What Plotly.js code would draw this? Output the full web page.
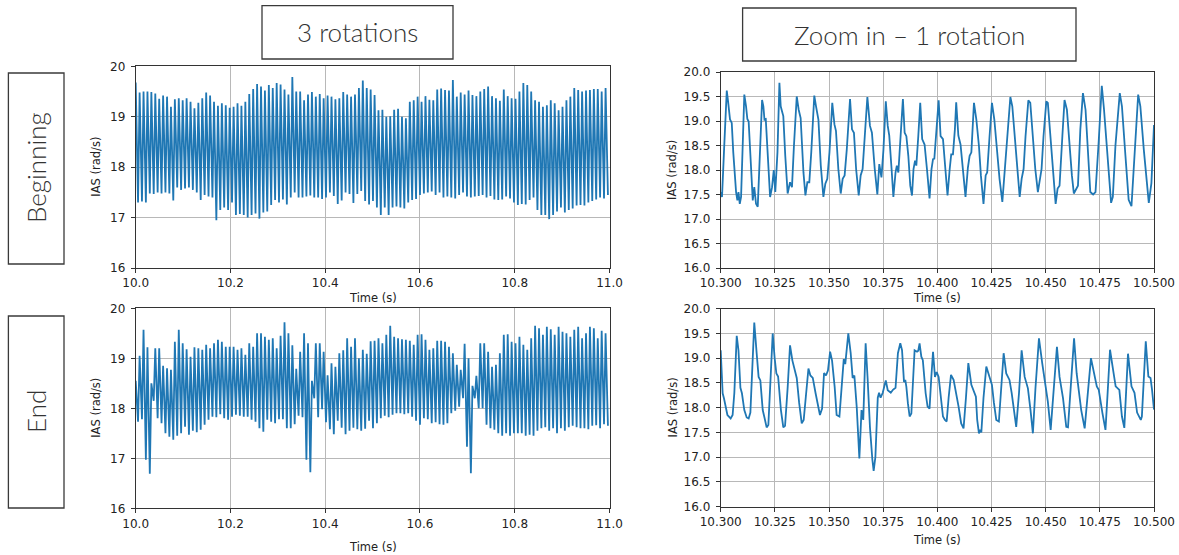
<!DOCTYPE html>
<html>
<head>
<meta charset="utf-8">
<script src="https://cdn.plot.ly/plotly-3.0.1.min.js"></script>
<style>html,body{margin:0;padding:0;background:#fff;}#chart{width:1179px;height:555px;}</style>
</head>
<body>
<div id="chart"></div>
<script>
// ---------------- DATA ----------------
// Left panels: one spike per shaft-speed cycle (about 121 cycles per second).
const cyclesPerSecond = 121;
const leftStart = 10.0;

// "Beginning", 3 rotations: peak and trough of every cycle (rad/s)
const beginPeaks = [19.68,19.48,19.5,19.5,19.49,19.46,19.36,19.42,19.4,19.2,
19.35,19.37,19.33,19.37,19.3,19.17,19.28,19.37,19.48,19.42,
19.3,19.22,19.27,19.23,19.18,19.2,19.27,19.22,19.3,19.45,
19.55,19.65,19.6,19.52,19.63,19.57,19.67,19.64,19.54,19.44,
19.79,19.5,19.5,19.33,19.44,19.49,19.4,19.45,19.37,19.42,
19.4,19.35,19.37,19.49,19.44,19.4,19.44,19.57,19.72,19.57,
19.54,19.43,19.13,19.14,19.0,19.01,19.14,19.16,19.0,18.97,
19.3,19.33,19.4,19.3,19.41,19.34,19.33,19.54,19.56,19.53,
19.52,19.73,19.4,19.48,19.44,19.52,19.43,19.41,19.5,19.55,
19.6,19.41,19.37,19.32,19.54,19.41,19.37,19.36,19.5,19.67,
19.63,19.5,19.33,19.3,19.2,19.23,19.33,19.27,19.13,19.2,
19.33,19.4,19.57,19.53,19.5,19.52,19.53,19.55,19.55,19.5,
19.57];
const beginTroughs = [17.3,17.32,17.3,17.48,17.47,17.5,17.48,17.5,17.48,17.34,
17.6,17.55,17.58,17.6,17.55,17.5,17.35,17.45,17.42,17.4,
16.95,17.15,17.2,17.15,17.3,17.05,17.07,17.05,17.0,17.05,
17.08,16.98,17.1,17.12,17.25,17.35,17.3,17.36,17.26,17.4,
17.5,17.4,17.4,17.42,17.44,17.4,17.4,17.37,17.4,17.5,
17.43,17.27,17.34,17.5,17.47,17.29,17.47,17.53,17.33,17.26,
17.33,17.2,17.05,17.2,17.05,17.2,17.22,17.2,17.18,17.3,
17.35,17.37,17.45,17.48,17.5,17.52,17.45,17.5,17.4,17.42,
17.4,17.38,17.45,17.5,17.42,17.4,17.42,17.43,17.45,17.4,
17.43,17.36,17.35,17.36,17.42,17.38,17.3,17.25,17.27,17.26,
17.35,17.4,17.15,17.05,17.05,16.97,17.05,17.12,17.2,17.1,
17.15,17.18,17.24,17.25,17.24,17.3,17.33,17.36,17.4,17.38,
17.45];

// "End", 3 rotations: peak and trough of every cycle (rad/s)
const endPeaks = [18.55,19.05,19.57,19.22,18.5,19.2,19.2,18.85,18.8,18.77,
19.33,19.57,19.3,19.18,19.03,19.22,19.2,19.17,19.27,19.2,
19.3,19.37,19.33,19.23,19.23,19.23,19.17,19.2,19.07,19.3,
19.23,19.5,19.5,19.43,19.37,19.4,19.2,19.45,19.72,19.5,
19.26,18.79,19.13,19.5,19.3,18.55,19.3,19.3,19.13,18.66,
18.9,18.83,19.1,19.16,19.4,19.23,19.4,19.0,19.17,19.09,
19.34,19.35,19.4,19.3,19.47,19.65,19.43,19.4,19.38,19.37,
19.35,19.27,19.47,19.48,19.37,19.17,19.2,19.35,19.35,19.33,
19.23,19.1,18.87,18.77,19.29,19.0,18.45,18.65,19.3,19.3,
19.13,18.83,18.87,19.1,19.47,19.48,19.33,19.3,19.43,19.27,
19.17,19.4,19.65,19.6,19.47,19.63,19.58,19.47,19.63,19.53,
19.5,19.43,19.57,19.63,19.4,19.5,19.63,19.6,19.4,19.55,
19.5];
const endTroughs = [17.73,17.78,16.97,16.69,18.15,17.8,17.7,17.5,17.43,17.37,
17.45,17.5,17.63,17.47,17.55,17.52,17.57,17.67,17.77,17.83,
17.82,17.88,17.8,17.77,17.83,17.87,17.85,17.83,17.83,17.77,
17.73,17.6,17.53,17.77,17.73,17.7,17.78,17.78,17.6,17.6,
17.68,17.85,17.82,16.97,16.72,18.2,17.82,17.98,17.72,17.58,
17.48,17.75,17.61,17.48,17.55,17.61,17.58,17.55,17.59,17.75,
17.6,17.7,17.8,17.85,17.82,17.87,17.9,17.9,17.88,17.9,
17.83,17.75,17.67,17.8,17.78,17.7,17.72,17.68,17.67,17.7,
17.9,17.95,18.03,18.2,17.23,16.7,18.2,18.0,18.0,17.67,
17.6,17.57,17.5,17.45,17.5,17.45,17.5,17.5,17.5,17.45,
17.47,17.45,17.55,17.6,17.62,17.55,17.6,17.5,17.6,17.55,
17.62,17.65,17.62,17.6,17.6,17.58,17.65,17.66,17.6,17.68,
17.65];

// "Beginning", zoom in (10.30 - 10.50 s): sampled trace
const zoomBeginTime = [10.3000,10.3006,10.3015,10.3028,10.3034,10.3043,10.3051,10.3058,10.3071,10.3077,
10.3082,10.3088,10.3094,10.3102,10.3109,10.3117,10.3123,10.3129,10.3138,10.3148,
10.3155,10.3163,10.3171,10.3178,10.3191,10.3197,10.3202,10.3208,10.3215,10.3228,
10.3237,10.3245,10.3252,10.3262,10.3271,10.3277,10.3283,10.3289,10.3298,10.3309,
10.3320,10.3329,10.3338,10.3351,10.3360,10.3369,10.3382,10.3391,10.3400,10.3409,
10.3418,10.3432,10.3440,10.3451,10.3462,10.3474,10.3483,10.3492,10.3502,10.3515,
10.3525,10.3532,10.3543,10.3554,10.3563,10.3572,10.3582,10.3597,10.3606,10.3615,
10.3625,10.3637,10.3646,10.3655,10.3665,10.3677,10.3689,10.3698,10.3711,10.3723,
10.3732,10.3742,10.3751,10.3762,10.3771,10.3778,10.3789,10.3797,10.3807,10.3813,
10.3820,10.3829,10.3841,10.3849,10.3857,10.3866,10.3875,10.3883,10.3890,10.3897,
10.3903,10.3912,10.3921,10.3930,10.3941,10.3952,10.3964,10.3973,10.3980,10.3986,
10.3995,10.4006,10.4015,10.4026,10.4037,10.4047,10.4057,10.4064,10.4072,10.4081,
10.4087,10.4097,10.4107,10.4118,10.4130,10.4141,10.4149,10.4157,10.4169,10.4180,
10.4192,10.4201,10.4213,10.4223,10.4230,10.4241,10.4252,10.4263,10.4275,10.4287,
10.4300,10.4309,10.4318,10.4326,10.4337,10.4346,10.4357,10.4367,10.4380,10.4389,
10.4398,10.4407,10.4420,10.4429,10.4441,10.4452,10.4464,10.4472,10.4481,10.4490,
10.4503,10.4510,10.4523,10.4533,10.4546,10.4555,10.4564,10.4577,10.4587,10.4598,
10.4610,10.4621,10.4630,10.4641,10.4649,10.4660,10.4672,10.4684,10.4695,10.4706,
10.4719,10.4730,10.4745,10.4759,10.4769,10.4785,10.4802,10.4810,10.4822,10.4842,
10.4852,10.4868,10.4883,10.4896,10.4910,10.4927,10.4937,10.4953,10.4976,10.4988,
10.5000];
const zoomBeginIAS = [17.55,17.45,18.36,19.62,19.40,19.03,18.96,18.36,17.55,17.38,
17.55,17.31,17.45,18.70,19.54,19.30,19.04,18.99,18.29,17.38,
17.65,17.31,17.25,18.02,19.43,19.30,19.03,19.04,18.49,17.45,
17.65,18.00,17.55,18.36,19.78,19.30,19.20,19.10,18.29,17.52,
17.75,17.65,18.49,19.50,19.23,19.06,17.95,17.48,17.75,17.75,
18.36,19.52,19.30,19.03,18.09,17.45,17.72,17.82,18.36,19.37,
18.93,18.80,18.02,17.52,17.82,17.89,18.42,19.45,18.83,18.76,
18.02,17.48,17.89,18.02,18.69,19.49,18.90,18.76,18.02,17.50,
18.12,17.85,18.40,19.40,18.90,18.70,18.00,17.45,17.95,18.09,
17.95,18.69,19.45,18.76,18.69,18.29,17.68,17.48,18.02,18.19,
18.09,18.69,19.37,18.63,18.52,18.02,17.42,18.02,18.22,18.23,
18.83,19.42,18.69,18.63,18.02,17.48,18.02,18.32,18.32,18.83,
19.38,18.70,18.52,18.02,17.45,18.05,18.29,18.36,19.37,19.03,
18.49,17.89,17.31,17.89,17.95,18.69,19.37,19.03,18.36,17.82,
17.35,17.89,18.29,18.83,19.49,19.30,18.69,18.02,17.45,17.82,
18.02,18.69,19.42,19.37,18.56,18.02,17.55,17.82,18.02,18.69,
19.40,19.37,18.69,18.02,17.31,17.62,17.68,18.69,19.43,19.23,
18.49,17.89,17.52,17.62,17.68,18.83,19.57,19.23,18.49,17.55,
17.50,17.55,18.60,19.72,19.25,18.28,17.33,17.45,18.50,19.57,
19.30,18.30,17.39,17.26,18.40,19.54,19.30,18.41,17.33,17.73,
18.92];

// "End", zoom in (10.30 - 10.50 s): sampled trace
const zoomEndTime = [10.3000,10.3009,10.3015,10.3022,10.3031,10.3046,10.3055,10.3063,10.3074,10.3082,
10.3091,10.3098,10.3109,10.3120,10.3129,10.3137,10.3148,10.3155,10.3166,10.3175,
10.3183,10.3194,10.3202,10.3212,10.3220,10.3231,10.3240,10.3249,10.3257,10.3265,
10.3278,10.3289,10.3297,10.3309,10.3320,10.3331,10.3340,10.3351,10.3362,10.3374,
10.3383,10.3395,10.3405,10.3414,10.3425,10.3438,10.3451,10.3458,10.3468,10.3477,
10.3486,10.3495,10.3505,10.3514,10.3526,10.3535,10.3548,10.3558,10.3568,10.3575,
10.3589,10.3600,10.3609,10.3617,10.3628,10.3640,10.3650,10.3658,10.3669,10.3678,
10.3689,10.3700,10.3706,10.3714,10.3725,10.3731,10.3738,10.3748,10.3762,10.3771,
10.3785,10.3795,10.3807,10.3818,10.3829,10.3837,10.3846,10.3852,10.3857,10.3864,
10.3872,10.3880,10.3887,10.3895,10.3906,10.3912,10.3918,10.3926,10.3933,10.3946,
10.3955,10.3964,10.3972,10.3980,10.3989,10.3997,10.4006,10.4015,10.4026,10.4035,
10.4043,10.4052,10.4063,10.4075,10.4086,10.4098,10.4110,10.4121,10.4132,10.4143,
10.4157,10.4167,10.4178,10.4184,10.4192,10.4198,10.4203,10.4213,10.4226,10.4233,
10.4244,10.4252,10.4261,10.4272,10.4284,10.4295,10.4306,10.4318,10.4333,10.4343,
10.4352,10.4364,10.4377,10.4389,10.4403,10.4418,10.4430,10.4441,10.4453,10.4469,
10.4484,10.4498,10.4510,10.4523,10.4537,10.4552,10.4564,10.4580,10.4595,10.4603,
10.4617,10.4631,10.4643,10.4653,10.4664,10.4680,10.4695,10.4709,10.4736,10.4745,
10.4762,10.4776,10.4786,10.4797,10.4811,10.4823,10.4840,10.4852,10.4863,10.4872,
10.4880,10.4896,10.4910,10.4922,10.4939,10.4944,10.4953,10.4962,10.4974,10.4984,
10.4991,10.5000];
const zoomEndIAS = [19.16,18.29,18.19,18.05,17.85,17.78,17.85,18.30,19.45,19.16,
18.40,18.29,17.95,17.80,17.78,17.90,18.90,19.72,19.10,18.62,
18.55,17.95,17.80,17.60,17.65,18.60,19.50,19.00,18.69,18.63,
17.95,17.60,17.63,18.40,19.26,18.95,18.76,18.60,18.10,17.68,
17.75,18.40,18.79,18.65,18.60,18.29,18.00,17.85,17.98,18.70,
18.65,18.75,19.13,18.95,18.42,17.85,17.82,18.50,18.98,18.88,
19.50,19.10,18.60,18.65,18.00,16.97,17.95,17.75,19.30,18.60,
17.60,16.95,16.72,17.00,18.20,18.30,18.20,18.30,18.55,18.35,
18.30,18.36,18.40,19.10,19.30,19.16,18.52,18.56,18.42,18.09,
17.82,17.88,18.60,19.16,19.13,19.15,19.30,19.03,18.96,18.29,
18.02,17.98,18.60,19.13,18.62,18.72,18.62,18.22,17.82,17.75,
17.72,18.20,18.66,18.56,18.32,18.02,17.68,17.58,18.20,18.90,
18.46,18.36,18.22,17.75,17.48,17.55,17.50,18.20,18.83,18.73,
18.56,18.46,18.10,17.75,17.72,18.50,19.10,18.69,18.56,18.30,
18.02,17.61,18.30,19.16,18.62,18.39,17.95,17.48,18.40,19.40,
18.90,18.42,18.12,17.55,18.30,19.23,18.62,18.19,17.61,17.60,
18.50,19.40,18.69,18.36,17.95,17.58,18.40,19.00,18.43,18.36,
17.89,17.55,18.30,19.17,18.77,18.43,18.36,17.82,17.59,18.30,
19.09,18.43,18.30,17.90,17.75,17.82,18.60,19.34,18.63,18.60,
18.36,17.96];

// Tick labels
const leftTicks = [10.0,10.2,10.4,10.6,10.8,11.0];
const rightTicks = [10.300,10.325,10.350,10.375,10.400,10.425,10.450,10.475,10.500];
const leftYTicks = [16,17,18,19,20];
const rightYTicks = [16.0,16.5,17.0,17.5,18.0,18.5,19.0,19.5,20.0];

// Texts
const columnTitles = ['3 rotations', 'Zoom in \u2013 1 rotation'];
const rowTitles = ['Beginning', 'End'];
const xTitle = 'Time (s)';
const yTitle = 'IAS (rad/s)';

// ---------------- BUILD ----------------
function cycleTrace(peaks, troughs) {
  const x = [], y = [];
  for (let k = 0; k < peaks.length; k++) {
    x.push(leftStart + k / cyclesPerSecond); y.push(peaks[k]);
    x.push(leftStart + (k + 0.6) / cyclesPerSecond); y.push(troughs[k]);
  }
  return {x, y};
}

const W = 1179, H = 555;
const px = v => v / W;
const py = v => 1 - v / H;
const BLUE = '#1f77b4';

const b = cycleTrace(beginPeaks, beginTroughs);
const e = cycleTrace(endPeaks, endTroughs);

const traces = [
  {x: b.x, y: b.y, xaxis: 'x', yaxis: 'y', type: 'scatter', mode: 'lines', line: {color: BLUE, width: 1.8}, hoverinfo: 'skip', showlegend: false},
  {x: zoomBeginTime, y: zoomBeginIAS, xaxis: 'x2', yaxis: 'y2', type: 'scatter', mode: 'lines', line: {color: BLUE, width: 1.8}, hoverinfo: 'skip', showlegend: false},
  {x: e.x, y: e.y, xaxis: 'x3', yaxis: 'y3', type: 'scatter', mode: 'lines', line: {color: BLUE, width: 1.8}, hoverinfo: 'skip', showlegend: false},
  {x: zoomEndTime, y: zoomEndIAS, xaxis: 'x4', yaxis: 'y4', type: 'scatter', mode: 'lines', line: {color: BLUE, width: 1.8}, hoverinfo: 'skip', showlegend: false}
];

const tickFont = {family: 'DejaVu Sans, sans-serif', size: 12, color: '#222'};
function axisBase(standoff) {
  return {
    showline: true, mirror: true, linecolor: '#333', linewidth: 1,
    ticks: 'outside', ticklen: 4, tickwidth: 1, tickcolor: '#333',
    showgrid: true, gridcolor: '#b8b8b8', gridwidth: 1, zeroline: false,
    tickfont: tickFont, ticklabelstandoff: standoff, fixedrange: true
  };
}
function xLeft(domain, anchor) {
  return Object.assign(axisBase(0), {domain, anchor, range: [10, 11], tickmode: 'array', tickvals: leftTicks, ticktext: leftTicks.map(v => v.toFixed(1))});
}
function xRight(domain, anchor) {
  return Object.assign(axisBase(0), {domain, anchor, range: [10.3, 10.5], tickmode: 'array', tickvals: rightTicks, ticktext: rightTicks.map(v => v.toFixed(3))});
}
function yLeft(domain, anchor) {
  return Object.assign(axisBase(3), {domain, anchor, range: [16, 20], tickmode: 'array', tickvals: leftYTicks, ticktext: leftYTicks.map(v => String(v))});
}
function yRight(domain, anchor) {
  return Object.assign(axisBase(3), {domain, anchor, range: [16, 20], tickmode: 'array', tickvals: rightYTicks, ticktext: rightYTicks.map(v => v.toFixed(1))});
}

const LX = [px(135.7), px(609.5)];
const RX = [px(720.7), px(1154)];
const TLY = [py(268), py(66.4)];
const TRY = [py(268), py(72)];
const BLY = [py(508.3), py(308.3)];
const BRY = [py(506.5), py(308.7)];

const boxLine = {color: '#3a3a3a', width: 1.3};
const shapes = [
  {type: 'rect', xref: 'paper', yref: 'paper', x0: px(262), x1: px(453), y0: py(59), y1: py(5.7), line: boxLine},
  {type: 'rect', xref: 'paper', yref: 'paper', x0: px(742.6), x1: px(1076), y0: py(61), y1: py(8), line: boxLine},
  {type: 'rect', xref: 'paper', yref: 'paper', x0: px(8.4), x1: px(64), y0: py(264), y1: py(73), line: boxLine},
  {type: 'rect', xref: 'paper', yref: 'paper', x0: px(8.4), x1: px(64), y0: py(508), y1: py(316), line: boxLine}
];

const boxFont = {family: 'Lato, "Open Sans", sans-serif', size: 26, color: '#333', weight: 300};
const labFont = {family: 'DejaVu Sans, sans-serif', size: 11.5, color: '#222'};
function ann(text, x, y, font, angle) {
  return {text, x: px(x), y: py(y), xref: 'paper', yref: 'paper', showarrow: false,
          xanchor: 'center', yanchor: 'middle', font, textangle: angle || 0};
}
const annotations = [
  ann(columnTitles[0], 357.5, 32.5, boxFont),
  ann(columnTitles[1], 909.3, 34.5, boxFont),
  ann(rowTitles[0], 36, 168, boxFont, -90),
  ann(rowTitles[1], 36, 412, boxFont, -90),
  ann(xTitle, 372.6, 298.5, labFont),
  ann(xTitle, 937.3, 298.5, labFont),
  ann(xTitle, 372.6, 547, labFont),
  ann(xTitle, 937.3, 540, labFont),
  ann(yTitle, 96.5, 167.2, labFont, -90),
  ann(yTitle, 672, 170, labFont, -90),
  ann(yTitle, 96.5, 408.3, labFont, -90),
  ann(yTitle, 672, 407.5, labFont, -90)
];

const layout = {
  width: W, height: H,
  margin: {l: 0, r: 0, t: 0, b: 0, pad: 0},
  paper_bgcolor: '#fff', plot_bgcolor: '#fff',
  showlegend: false,
  xaxis: xLeft(LX, 'y'),
  yaxis: yLeft(TLY, 'x'),
  xaxis2: xRight(RX, 'y2'),
  yaxis2: yRight(TRY, 'x2'),
  xaxis3: xLeft(LX, 'y3'),
  yaxis3: yLeft(BLY, 'x3'),
  xaxis4: xRight(RX, 'y4'),
  yaxis4: yRight(BRY, 'x4'),
  shapes, annotations
};

Plotly.newPlot('chart', traces, layout, {displayModeBar: false, staticPlot: true});
</script>
</body>
</html>
